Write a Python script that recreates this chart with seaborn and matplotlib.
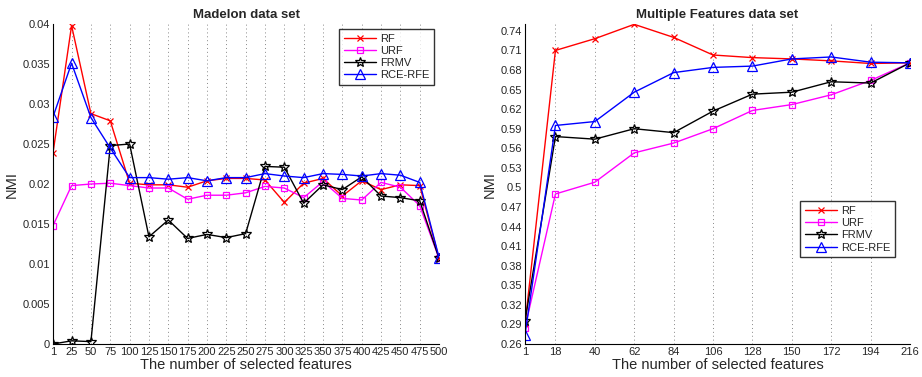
import numpy as np
import pandas as pd
import matplotlib
matplotlib.use("Agg")
import matplotlib.pyplot as plt
import seaborn as sns

# Madelon data set
mad_x = [1, 25, 50, 75, 100, 125, 150, 175, 200, 225, 250, 275, 300, 325, 350, 375, 400, 425, 450, 475, 500]
mad_rf = [0.0239, 0.0398, 0.0288, 0.0279, 0.0201, 0.0199, 0.0199, 0.0196, 0.0204, 0.0207, 0.0207,
          0.0205, 0.0177, 0.0201, 0.0207, 0.0185, 0.0204, 0.0193, 0.0199, 0.0198, 0.0107]
mad_urf = [0.0148, 0.0198, 0.0200, 0.0201, 0.0198, 0.0195, 0.0195, 0.0181, 0.0186, 0.0186, 0.0189,
           0.0197, 0.0195, 0.0183, 0.0203, 0.0182, 0.0180, 0.0202, 0.0196, 0.0173, 0.0107]
mad_frmv = [0.0000, 0.0004, 0.0003, 0.0248, 0.0250, 0.0134, 0.0155, 0.0132, 0.0137, 0.0133, 0.0138,
            0.0222, 0.0221, 0.0176, 0.0199, 0.0193, 0.0209, 0.0185, 0.0183, 0.0179, 0.0107]
mad_rce = [0.0284, 0.0351, 0.0283, 0.0245, 0.0208, 0.0208, 0.0206, 0.0208, 0.0204, 0.0208, 0.0208,
           0.0213, 0.0210, 0.0208, 0.0213, 0.0212, 0.0210, 0.0213, 0.0211, 0.0202, 0.0108]
mad_yticks = [0, 0.005, 0.01, 0.015, 0.02, 0.025, 0.03, 0.035, 0.04]
mad_ylabels = ["0", "0.005", "0.01", "0.015", "0.02", "0.025", "0.03", "0.035", "0.04"]

# Multiple Features data set
mf_x = [1, 18, 40, 62, 84, 106, 128, 150, 172, 194, 216]
mf_rf = [0.290, 0.710, 0.728, 0.750, 0.730, 0.703, 0.699, 0.697, 0.694, 0.690, 0.691]
mf_urf = [0.285, 0.490, 0.508, 0.553, 0.568, 0.590, 0.618, 0.627, 0.642, 0.664, 0.691]
mf_frmv = [0.295, 0.578, 0.574, 0.590, 0.584, 0.617, 0.643, 0.646, 0.662, 0.660, 0.691]
mf_rce = [0.274, 0.595, 0.601, 0.646, 0.676, 0.684, 0.686, 0.697, 0.700, 0.692, 0.691]
mf_yticks = [0.26, 0.29, 0.32, 0.35, 0.38, 0.41, 0.44, 0.47, 0.5, 0.53, 0.56, 0.59, 0.62,
             0.65, 0.68, 0.71, 0.74]
mf_ylabels = ["0.26", "0.29", "0.32", "0.35", "0.38", "0.41", "0.44", "0.47", "0.5", "0.53",
              "0.56", "0.59", "0.62", "0.65", "0.68", "0.71", "0.74"]

methods = ["RF", "URF", "FRMV", "RCE-RFE"]
styles = {
    "RF": dict(color="#ff0000", marker="x", ms=4, mew=0.9),
    "URF": dict(color="#ff00ff", marker="s", ms=5, mew=0.9, mfc="none"),
    "FRMV": dict(color="#000000", marker="*", ms=7.5, mew=0.9, mfc="none"),
    "RCE-RFE": dict(color="#0000ff", marker="^", ms=6.5, mew=0.9, mfc="none"),
}

sns.set_style("white")
plt.rcParams["font.family"] = ["Liberation Sans", "DejaVu Sans"]

fig = plt.figure(figsize=(9.22, 3.77), dpi=100)
ax1 = fig.add_axes([0.0575, 0.0875, 0.4187, 0.8488])
ax2 = fig.add_axes([0.5694, 0.0875, 0.4176, 0.8488])


def draw(ax, x, series, title, xlim, ylim, yticks, ylabels, legend_loc, legend_anchor):
    for name, vals in zip(methods, series):
        df = pd.DataFrame({"x": x, "y": vals})
        st = styles[name]
        sns.lineplot(data=df, x="x", y="y", ax=ax, label=name, color=st["color"],
                     marker=st["marker"], markersize=st["ms"], markeredgewidth=st["mew"],
                     markerfacecolor=st.get("mfc", st["color"]), markeredgecolor=st["color"],
                     linewidth=1.0)
    ax.set_xlim(*xlim)
    ax.set_ylim(*ylim)
    ax.set_xticks(x)
    ax.set_xticklabels([str(v) for v in x])
    ax.set_yticks(yticks)
    ax.set_yticklabels(ylabels)
    ax.tick_params(direction="in", length=3, width=0.8, labelsize=8, pad=2)
    for v in x:
        ax.axvline(v, color="#888888", linestyle=(0, (1, 3)), linewidth=0.7, zorder=0)
    for s in ["top", "right"]:
        ax.spines[s].set_visible(False)
    for s in ["left", "bottom"]:
        ax.spines[s].set_color("black")
        ax.spines[s].set_linewidth(0.8)
    ax.set_title(title, fontsize=9.5, fontweight="bold", pad=4)
    ax.set_xlabel("The number of selected features", fontsize=10.5, labelpad=1)
    ax.set_ylabel("NMI", fontsize=10.5, labelpad=3)
    leg = ax.legend(loc=legend_loc, bbox_to_anchor=legend_anchor, fontsize=8, frameon=True,
                    fancybox=False, edgecolor="black", borderpad=0.4, handlelength=2.9,
                    labelspacing=0.2, handletextpad=0.4, borderaxespad=0)
    leg.get_frame().set_linewidth(1.0)


draw(ax1, mad_x, [mad_rf, mad_urf, mad_frmv, mad_rce], "Madelon data set",
     (1, 500), (0, 0.04), mad_yticks, mad_ylabels, "upper right", (0.987, 0.984))
draw(ax2, mf_x, [mf_rf, mf_urf, mf_frmv, mf_rce], "Multiple Features data set",
     (1, 216), (0.26, 0.7505), mf_yticks, mf_ylabels, "lower right", (0.961, 0.272))

fig.savefig("out.png", dpi=100)
